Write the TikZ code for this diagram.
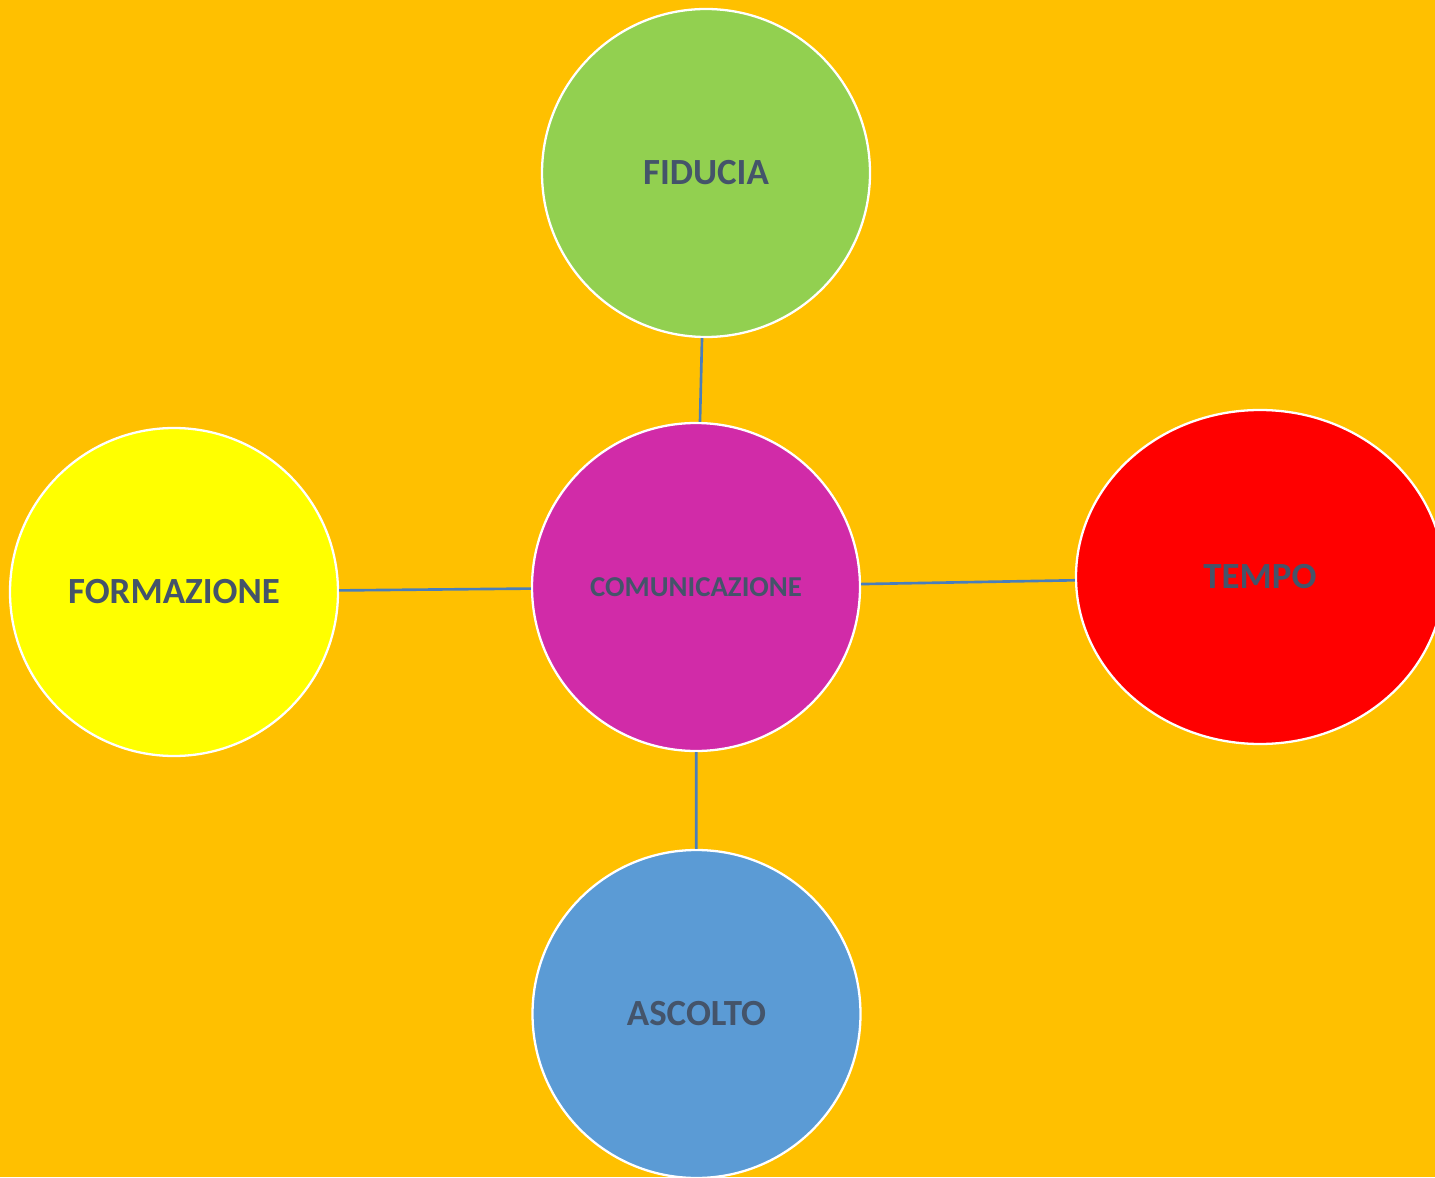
\documentclass[tikz,border=0pt]{standalone}
\usepackage{fontspec}
\setmainfont{Carlito}
\usepackage{tikz}
\usetikzlibrary{shapes.geometric}

\definecolor{bgorange}{RGB}{255,192,0}
\definecolor{txtgray}{RGB}{68,84,106}
\definecolor{linkblue}{RGB}{74,126,187}
\definecolor{commag}{RGB}{209,43,168}
\definecolor{fidgreen}{RGB}{146,208,80}
\definecolor{formyellow}{RGB}{255,255,0}
\definecolor{ascblue}{RGB}{91,155,213}

\begin{document}
\begin{tikzpicture}[
        bubble/.style={circle, draw=white, line width=1.3pt, minimum size=6.56cm,
            inner sep=0pt, text=txtgray, font=\bfseries\fontsize{21}{25}\selectfont},
        link/.style={draw=linkblue, line width=1.5pt}
    ]
        % Background
        \useasboundingbox (0,0) rectangle (28.7,23.54);
        \clip (0,0) rectangle (28.7,23.54);
        \fill[bgorange] (0,0) rectangle (28.7,23.54);

        % Central bubble
        \node[bubble, fill=commag, font=\bfseries\fontsize{16.4}{19}\selectfont] (com) at (13.92,11.80) {COMUNICAZIONE};

        % Outer bubbles
        \node[bubble, fill=fidgreen] (fid) at (14.12,20.08) {FIDUCIA};
        \node[bubble, fill=formyellow] (form) at (3.48,11.70) {FORMAZIONE};
        \node[bubble, fill=ascblue] (asc) at (13.93,3.26) {ASCOLTO};
        \node[bubble, ellipse, fill=red, minimum width=7.36cm, minimum height=6.68cm] (tempo) at (25.20,12.00) {TEMPO};

        % Links to the centre
        \draw[link] (fid) -- (com);
        \draw[link] (form) -- (com);
        \draw[link] (tempo) -- (com);
        \draw[link] (asc) -- (com);
    \end{tikzpicture}
\end{document}
